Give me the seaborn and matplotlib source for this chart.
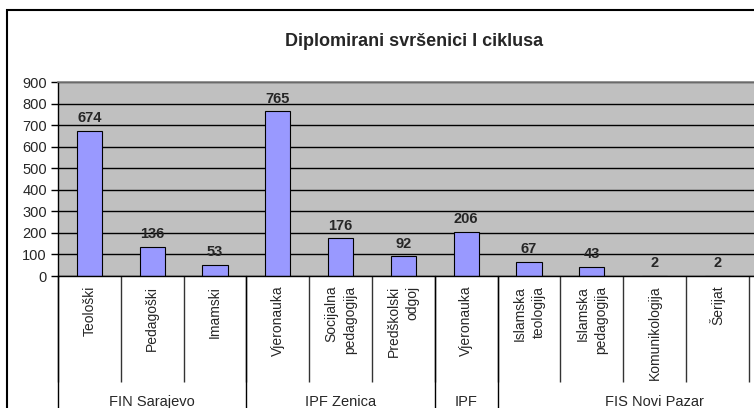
import pandas as pd
import seaborn as sns
import matplotlib.pyplot as plt
from matplotlib.patches import Rectangle
import matplotlib.transforms as mtransforms

# chart data
programs = ["Teološki", "Pedagoški", "Imamski", "Vjeronauka", "Socijalna\npedagogija",
            "Predškolski\nodgoj", "Vjeronauka", "Islamska\nteologija", "Islamska\npedagogija",
            "Komunikologija", "Šerijat"]
graduates = [674, 136, 53, 765, 176, 92, 206, 67, 43, 2, 2]
faculties = ["FIN Sarajevo", "IPF Zenica", "IPF", "FIS Novi Pazar"]
faculty_sizes = [3, 3, 1, 5]   # last group runs past the right edge of the picture
y_ticks = list(range(0, 1000, 100))

df = pd.DataFrame({"slot": range(len(graduates)), "value": graduates})

sns.set_style("white")
plt.rcParams["font.family"] = ["Liberation Sans", "DejaVu Sans"]

W, H = 754, 408
fig = plt.figure(figsize=(W / 100, H / 100), dpi=100)
slot_px = 62.8
ax_left, ax_top, ax_bottom = 58, 82, 276
ax = fig.add_axes([ax_left / W, 1 - ax_bottom / H, 12 * slot_px / W, (ax_bottom - ax_top) / H])

sns.barplot(data=df, x="slot", y="value", color="#9999FF", saturation=1,
            edgecolor="black", linewidth=0.8, width=0.4, ax=ax)
ax.bar_label(ax.containers[0], fmt="%d", fontweight="bold", fontsize=10.5, padding=4)

ax.set_facecolor("#C0C0C0")
ax.set_axisbelow(True)
ax.set_ylim(0, 900)
ax.set_yticks(y_ticks)
ax.tick_params(axis="y", labelsize=10.5, length=5, width=1, color="black", pad=3, left=True)
ax.grid(axis="y", color="black", linewidth=1)
ax.set_xlim(-0.5, 11.5)
ax.set_xlabel("")
ax.set_ylabel("")

# category labels
ax.set_xticks(range(len(programs)))
ax.set_xticklabels(programs, rotation=90, fontsize=10, va="top", ha="center",
                   multialignment="right", linespacing=1.45)
ax.tick_params(axis="x", which="major", length=0, pad=7)
ax.set_xticks([i - 0.5 for i in range(13)], minor=True)
ax.tick_params(axis="x", which="minor", bottom=True, length=76, width=1,
               color="#333333", direction="out")

for side in ["left", "bottom"]:
    ax.spines[side].set_color("black")
    ax.spines[side].set_linewidth(1)
ax.spines["top"].set_color("#808080")
ax.spines["top"].set_linewidth(1.2)
ax.spines["right"].set_visible(False)

# faculty groups
trans = mtransforms.blended_transform_factory(ax.transData, ax.transAxes)
low = -(H - ax_bottom + 10) / (ax_bottom - ax_top)
start = -0.5
for name, size in zip(faculties, faculty_sizes):
    ax.plot([start, start], [0, low], transform=trans, color="black", lw=1, clip_on=False)
    ax.text(start + size / 2, -(402 - ax_bottom) / (ax_bottom - ax_top), name,
            transform=trans, ha="center", va="center", fontsize=10.5)
    start += size

fig.text(414 / W, 1 - 46 / H, "Diplomirani svršenici I ciklusa",
         ha="center", va="baseline", fontsize=13, fontweight="bold")

fig.patches.append(Rectangle((7 / W, -0.1), 2, 1 - 10 / H + 0.1, transform=fig.transFigure,
                             fill=False, edgecolor="black", linewidth=1.5))

fig.savefig("out.png", dpi=100)
